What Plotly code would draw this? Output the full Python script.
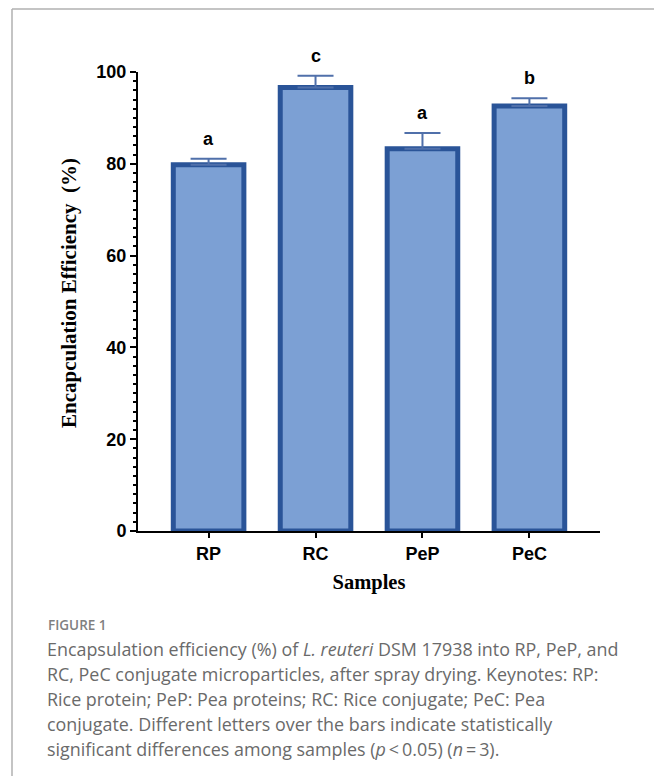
import plotly.graph_objects as go

categories = ["RP", "RC", "PeP", "PeC"]
values = [79.8, 96.6, 83.3, 92.6]
errors = [1.3, 2.6, 3.4, 1.7]
letters = ["a", "c", "a", "b"]
y_ticks = [0, 20, 40, 60, 80, 100]

y_title = "Encapculation Efficiency \u00a0(%)"
x_title = "Samples"
caption_title = "FIGURE 1"
caption_lines = [
    "Encapsulation efficiency (%) of <i>L. reuteri</i> DSM 17938 into RP, PeP, and",
    "RC, PeC conjugate microparticles, after spray drying. Keynotes: RP:",
    "Rice protein; PeP: Pea proteins; RC: Rice conjugate; PeC: Pea",
    "conjugate. Different letters over the bars indicate statistically",
    "significant differences among samples (<i>p</i>\u2009<\u20090.05) (<i>n</i>\u2009=\u20093).",
]

W, H = 654, 776
L, R, T, B = 138, 54, 72, 245
pw, ph = W - L - R, H - T - B

def px(x):
    return (x - L) / pw

def py(y):
    return (H - B - y) / ph

fig = go.Figure()
fig.add_trace(go.Bar(
    x=categories, y=values, width=0.66,
    marker=dict(color="rgb(124,160,212)", line=dict(color="rgb(42,84,152)", width=5)),
    error_y=dict(type="data", symmetric=False, array=errors, arrayminus=[0] * len(errors),
                 color="rgb(80,112,170)", thickness=2, width=18),
    showlegend=False,
))

for c, v, e, t in zip(categories, values, errors, letters):
    fig.add_annotation(x=c, y=v + e, text=t, showarrow=False, yanchor="bottom", yshift=8,
                       font=dict(family="Liberation Sans, Arial", size=18, color="black", weight="bold"))

# y-axis title
fig.add_annotation(xref="paper", yref="paper", x=px(69), y=py(293), text=y_title, textangle=-90,
                   showarrow=False, xanchor="center", yanchor="middle",
                   font=dict(family="Liberation Serif, Times New Roman", size=21, color="black", weight="bold"))

fig.add_annotation(xref="paper", yref="paper", x=px(46), y=py(625), text=caption_title,
                   showarrow=False, xanchor="left", yanchor="middle",
                   font=dict(family="Open Sans", size=13.5, color="#808080", weight=600))
for i, line in enumerate(caption_lines):
    fig.add_annotation(xref="paper", yref="paper", x=px(45), y=py(649 + 25 * i), text=line,
                       showarrow=False, xanchor="left", yanchor="middle",
                       font=dict(family="Open Sans", size=17.9, color="#6a6a6a"))

# page border (top and left)
fig.add_shape(type="line", xref="paper", yref="paper", x0=px(12), x1=px(654), y0=py(9), y1=py(9),
              line=dict(color="#b0b0b0", width=1.5))
fig.add_shape(type="line", xref="paper", yref="paper", x0=px(12), x1=px(12), y0=py(9), y1=py(776),
              line=dict(color="#b0b0b0", width=1.5))

fig.update_layout(
    width=W, height=H, margin=dict(l=L, r=R, t=T, b=B),
    plot_bgcolor="white", paper_bgcolor="white",
    bargap=0.34,
    xaxis=dict(range=[-0.66, 3.66], showline=True, linecolor="black", linewidth=2,
               ticks="outside", ticklen=5, tickwidth=2, tickcolor="black",
               tickfont=dict(family="Liberation Sans, Arial", size=18, color="black", weight="bold"),
               title=dict(text=x_title, standoff=12,
                          font=dict(family="Liberation Serif, Times New Roman", size=20.5, color="black", weight="bold")),
               showgrid=False, zeroline=False),
    yaxis=dict(range=[0, 100], tickvals=y_ticks, showline=True, linecolor="black", linewidth=2,
               ticks="outside", ticklen=6, tickwidth=2, tickcolor="black",
               minor=dict(dtick=2, ticks="outside", ticklen=3, tickwidth=1.5, tickcolor="black"),
               tickfont=dict(family="Liberation Sans, Arial", size=18, color="black", weight="bold"),
               showgrid=False, zeroline=False),
)

fig.write_html("out.html")
